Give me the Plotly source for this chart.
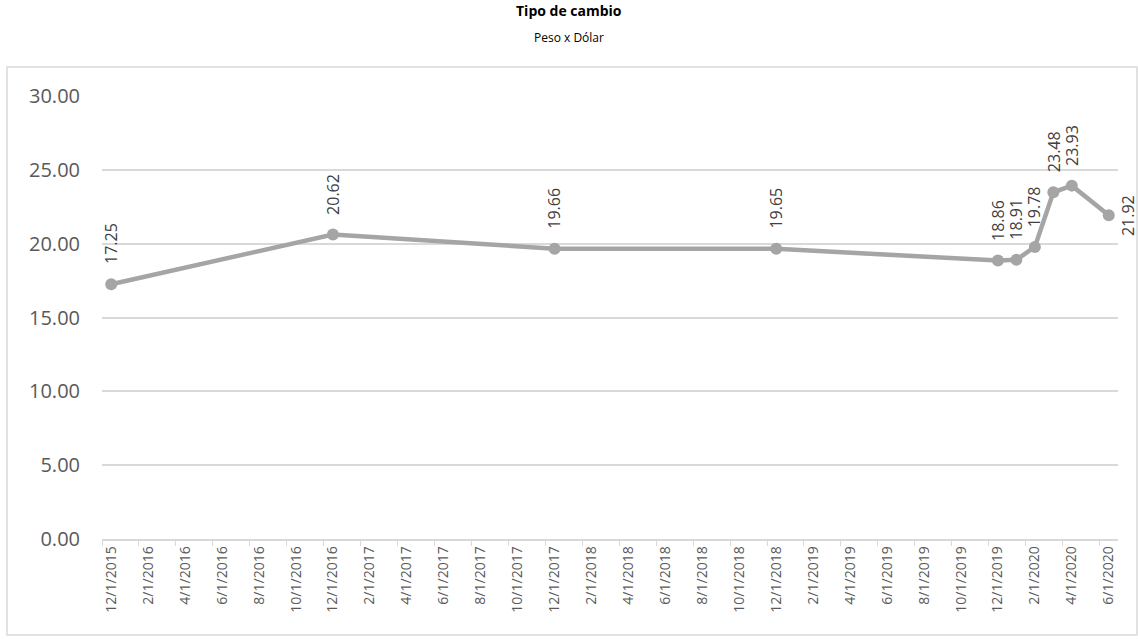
import plotly.graph_objects as go
import pandas as pd

# Tipo de cambio, peso por dólar
dates = ["2015-12-01", "2016-12-01", "2017-12-01", "2018-12-01", "2019-12-01",
         "2020-01-01", "2020-02-01", "2020-03-01", "2020-04-01", "2020-06-01"]
rates = [17.25, 20.62, 19.66, 19.65, 18.86, 18.91, 19.78, 23.48, 23.93, 21.92]

tick_dates = pd.date_range("2015-12-01", "2020-06-01", freq="2MS")
tick_labels = [f"{d.month}/{d.day}/{d.year}" for d in tick_dates]

start = pd.Timestamp("2015-12-01")


def month_index(d):
    d = pd.Timestamp(d)
    return (d.year - start.year) * 12 + d.month - start.month


x = [month_index(d) for d in dates]
tick_x = [month_index(d) for d in tick_dates]
n_months = month_index("2020-06-01") + 1

GRAY = "#A5A5A5"
TXT = "#595959"
FONT = "Open Sans"

fig = go.Figure()
fig.add_trace(go.Scatter(
    x=x, y=rates, mode="lines+markers",
    line=dict(color=GRAY, width=4.5),
    marker=dict(color=GRAY, size=12),
    hoverinfo="skip",
))

# data labels, rotated like in the spreadsheet
for i, (xi, yi) in enumerate(zip(x, rates)):
    last = i == len(x) - 1
    fig.add_annotation(
        x=xi, y=yi, text=f"{yi:.2f}", showarrow=False, textangle=-90,
        font=dict(family=FONT, size=16, color="#404040"),
        xanchor="left" if last else "center",
        yanchor="middle" if last else "bottom",
        xshift=7 if last else 0, yshift=0 if last else 18,
    )

fig.add_annotation(x=0.4596, y=1.194, xref="paper", yref="paper", showarrow=False,
                   xanchor="center", yanchor="middle",
                   text="<b>Tipo de cambio</b>", font=dict(family=FONT, size=14, color="black"))
fig.add_annotation(x=0.4596, y=1.133, xref="paper", yref="paper", showarrow=False,
                   xanchor="center", yanchor="middle",
                   text="Peso x Dólar", font=dict(family=FONT, size=12, color="black"))

# chart frame
fig.add_shape(type="rect", xref="paper", yref="paper",
              x0=-0.0935, x1=1.0187, y0=-0.2167, y1=1.0655,
              line=dict(color="#D9D9D9", width=1.5), layer="below")

fig.update_layout(
    width=1138, height=639,
    margin=dict(l=102, r=20, t=96, b=100),
    plot_bgcolor="white", paper_bgcolor="white",
    showlegend=False,
    font=dict(family=FONT, color=TXT),
    xaxis=dict(
        range=[-0.5, n_months - 0.5],
        tickvals=tick_x, ticktext=tick_labels, tickangle=-90,
        tickfont=dict(size=14, color=TXT),
        showgrid=False, zeroline=False,
        showline=True, linecolor="#D9D9D9", linewidth=1.5,
        ticks="",
        minor=dict(tickvals=[t - 0.5 for t in tick_x],
                   ticks="outside", ticklen=5, tickcolor="#D9D9D9", showgrid=False),
    ),
    yaxis=dict(
        range=[0, 30], dtick=5, tickformat=".2f",
        tickfont=dict(size=20, color=TXT),
        showgrid=True, gridcolor="#D9D9D9", gridwidth=1.5,
        zeroline=False, showline=False, ticks="", ticklabelstandoff=21,
    ),
)

# page body has a default 8px margin; drop it so the chart sits at the corner
fig.write_html("out.html", config={"displayModeBar": False},
               post_script="document.body.style.margin='0';")
